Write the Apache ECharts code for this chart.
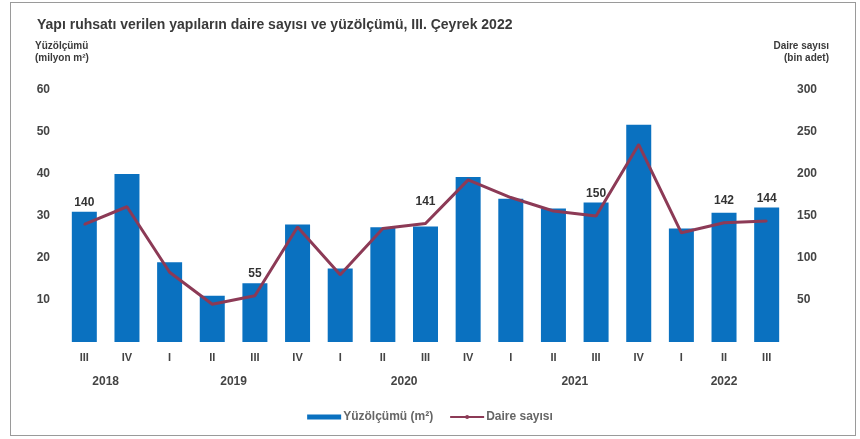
<!DOCTYPE html>
<html>
<head>
<meta charset="utf-8">
<script src="https://cdn.jsdelivr.net/npm/echarts@6/dist/echarts.min.js"></script>
<style>
  html, body { margin: 0; padding: 0; background: #fff; }
  .frame {
    position: absolute; left: 10px; top: 2px; width: 846px; height: 434px;
    border: 1px solid #9a9a9a; box-sizing: border-box;
  }
  #chart { position: absolute; left: 0; top: 0; width: 860px; height: 439px; }
</style>
</head>
<body>
<div class="frame"></div>
<div id="chart"></div>
<script>
// ceyrekler (quarters)
var quarters = ['III', 'IV', 'I', 'II', 'III', 'IV', 'I', 'II', 'III', 'IV', 'I', 'II', 'III', 'IV', 'I', 'II', 'III'];
var years = ['2018', '2019', '2020', '2021', '2022'];
var yearSizes = [2, 4, 4, 4, 3];

// yuzolcumu (milyon m2)
var areaValues = [31, 40, 19, 11, 14, 28, 17.5, 27.3, 27.5, 39.3, 34.1, 31.8, 33.2, 51.7, 27, 30.8, 32];
// daire sayisi (bin adet)
var dwellingValues = [140, 161, 83, 45, 55, 137, 80, 135, 141, 193, 172, 156, 150, 235, 130, 142, 144];
var labeledPoints = [0, 4, 8, 12, 15, 16];

var leftTicks = [0, 60, 10];
var rightTicks = [0, 300, 50];

// year axis: 2*n+1 slots, label at the middle of each year group
var yearSlots = [];
for (var i = 0; i <= quarters.length * 2; i++) yearSlots.push('');
var start = 0;
years.forEach(function (y, idx) {
  yearSlots[2 * start + yearSizes[idx]] = y;
  start += yearSizes[idx];
});

var lineData = dwellingValues.map(function (v, idx) {
  if (labeledPoints.indexOf(idx) >= 0) {
    return { value: v, label: { show: true } };
  }
  return v;
});

var font = 'Liberation Sans, Arial, sans-serif';
var chart = echarts.init(document.getElementById('chart'));

chart.setOption({
  animation: false,
  textStyle: { fontFamily: font },
  title: {
    text: 'Yapı ruhsatı verilen yapıların daire sayısı ve yüzölçümü, III. Çeyrek 2022',
    left: 32, top: 13,
    textStyle: { fontSize: 14, fontWeight: 'bold', color: '#3a3a3a', fontFamily: font }
  },
  graphic: [
    {
      type: 'text', left: 35, top: 40,
      style: { text: 'Yüzölçümü\n(milyon m²)', font: 'bold 10px ' + font, fill: '#3a3a3a', lineHeight: 12 }
    },
    {
      type: 'text', right: 31, top: 40,
      style: { text: 'Daire sayısı\n(bin adet)', font: 'bold 10px ' + font, fill: '#3a3a3a', lineHeight: 12, align: 'right', textAlign: 'right' }
    }
  ],
  legend: {
    bottom: 11, left: 'center',
    itemWidth: 34, itemHeight: 5, itemGap: 16,
    textStyle: { fontSize: 12, fontWeight: 'bold', color: '#666', padding: [0, 0, 0, -3] },
    data: [
      { name: 'Yüzölçümü (m²)', icon: 'rect' },
      { name: 'Daire sayısı' }
    ]
  },
  grid: { left: 63, right: 72, top: 90, bottom: 97 },
  xAxis: [
    {
      type: 'category',
      data: quarters,
      axisLine: { show: false },
      axisTick: { show: false },
      axisLabel: { interval: 0, margin: 10, fontSize: 11, fontWeight: 'bold', color: '#444' }
    },
    {
      type: 'category',
      data: yearSlots,
      position: 'bottom',
      offset: 24,
      boundaryGap: false,
      axisLine: { show: false },
      axisTick: { show: false },
      axisLabel: { interval: 0, margin: 10, fontSize: 12, fontWeight: 'bold', color: '#444' }
    }
  ],
  yAxis: [
    {
      type: 'value',
      min: leftTicks[0], max: leftTicks[1], interval: leftTicks[2],
      splitLine: { show: false },
      axisLine: { show: false },
      axisTick: { show: false },
      axisLabel: {
        margin: 13, fontSize: 12, fontWeight: 'bold', color: '#444',
        formatter: function (v) { return v === 0 ? '' : v; }
      }
    },
    {
      type: 'value',
      min: rightTicks[0], max: rightTicks[1], interval: rightTicks[2],
      splitLine: { show: false },
      axisLine: { show: false },
      axisTick: { show: false },
      axisLabel: {
        margin: 9, fontSize: 12, fontWeight: 'bold', color: '#444',
        formatter: function (v) { return v === 0 ? '' : v; }
      }
    }
  ],
  series: [
    {
      name: 'Yüzölçümü (m²)',
      type: 'bar',
      data: areaValues,
      barWidth: 25,
      itemStyle: { color: '#0a71c0' }
    },
    {
      name: 'Daire sayısı',
      type: 'line',
      yAxisIndex: 1,
      data: lineData,
      symbol: 'circle',
      symbolSize: 2,
      lineStyle: { color: '#8c3a56', width: 3 },
      itemStyle: { color: '#8c3a56' },
      label: {
        show: false, position: 'top', distance: 15,
        fontSize: 12, fontWeight: 'bold', color: '#333'
      }
    }
  ]
});
</script>
</body>
</html>
